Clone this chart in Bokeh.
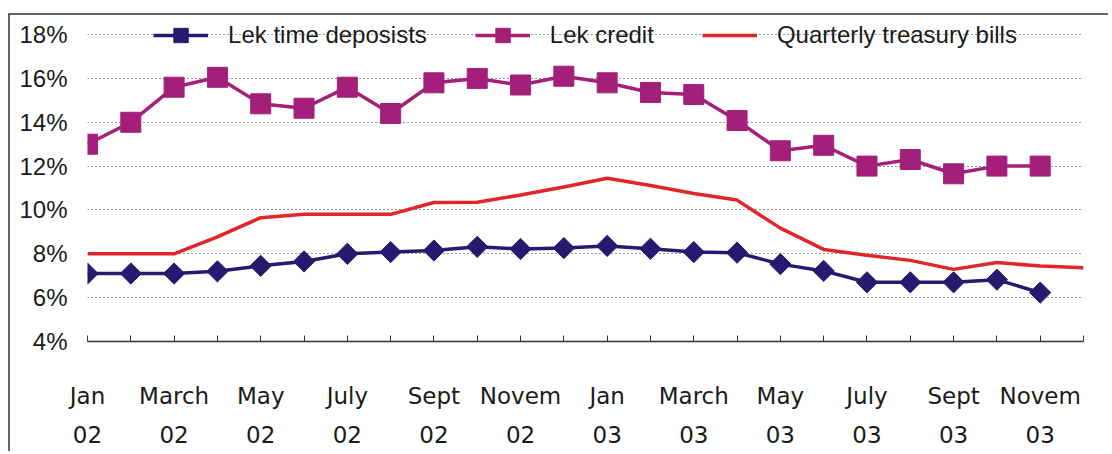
from bokeh.plotting import figure
from bokeh.models import Range1d, FixedTicker, LinearAxis, Legend, LegendItem
from bokeh.embed import file_html
from bokeh.resources import INLINE

# ---- data ----
month_index = list(range(24))  # Jan 02 ... Dec 03
label_index = list(range(0, 24, 2))
tick_months = ["Jan", "March", "May", "July", "Sept", "Novem",
               "Jan", "March", "May", "July", "Sept", "Novem"]
tick_years = ["02", "02", "02", "02", "02", "02",
              "03", "03", "03", "03", "03", "03"]

lek_deposits = [7.1, 7.1, 7.1, 7.2, 7.45, 7.65, 8.0, 8.08, 8.15, 8.32, 8.22, 8.26,
                8.36, 8.23, 8.08, 8.05, 7.53, 7.22, 6.7, 6.7, 6.7, 6.82, 6.23]
lek_credit = [13.0, 14.0, 15.6, 16.05, 14.84, 14.64, 15.6, 14.4, 15.8, 16.0, 15.7, 16.1,
              15.8, 15.36, 15.27, 14.08, 12.7, 12.95, 12.0, 12.3, 11.65, 12.0, 12.0]
treasury_bills = [8.0, 8.0, 8.0, 8.77, 9.65, 9.8, 9.8, 9.8, 10.34, 10.35, 10.68, 11.05,
                  11.45, 11.12, 10.75, 10.45, 9.17, 8.2, 7.93, 7.7, 7.29, 7.6, 7.44, 7.36]
y_ticks = [4, 6, 8, 10, 12, 14, 16, 18]

C_DEP = "#28186f"
C_CRED = "#a31f7a"
C_TB = "#e0262a"
FONT = "Liberation Sans"
XFONT = "DejaVu Sans"

p = figure(width=1100, height=438, x_range=Range1d(0, 23), y_range=Range1d(4, 18.87),
           output_backend="svg", toolbar_location=None,
           min_border_left=77, min_border_right=27, min_border_top=0, min_border_bottom=112)
p.outline_line_color = None
# chart-area frame: top and left edges
p.styles = {"border-top": "2px solid #666666", "border-left": "2px solid #666666"}
p.margin = (13, 0, 0, 8)

# y axis
ya = p.yaxis[0]
ya.ticker = FixedTicker(ticks=y_ticks)
ya.major_label_overrides = {t: f"{t}%" for t in y_ticks}
ya.axis_line_color = None
ya.major_tick_line_color = None
ya.minor_tick_line_color = None
ya.major_label_standoff = 14
ya.major_label_text_font = FONT
ya.major_label_text_font_size = "24px"
ya.major_label_text_color = "#1a1a1a"

p.xgrid.grid_line_color = None
p.ygrid.grid_line_color = "#333333"
p.ygrid.grid_line_dash = "1 3"
p.ygrid.grid_line_width = 1

# x axis: months
xa = p.xaxis[0]
xa.ticker = FixedTicker(ticks=month_index)
overrides = {i: "" for i in month_index}
for i, m in zip(label_index, tick_months):
    overrides[i] = m
xa.major_label_overrides = overrides
xa.axis_line_color = "#333333"
xa.axis_line_width = 1.5
xa.major_tick_line_color = "#333333"
xa.major_tick_in = 6
xa.major_tick_out = 0
xa.minor_tick_line_color = None
xa.major_label_standoff = 41
xa.major_label_text_font = XFONT
xa.major_label_text_font_size = "23px"
xa.major_label_text_color = "#1a1a1a"

# x axis: years
xa2 = LinearAxis(ticker=FixedTicker(ticks=label_index),
                 major_label_overrides={i: y for i, y in zip(label_index, tick_years)})
xa2.axis_line_color = None
xa2.major_tick_line_color = None
xa2.minor_tick_line_color = None
xa2.major_label_standoff = 8
xa2.major_label_text_font = XFONT
xa2.major_label_text_font_size = "23px"
xa2.major_label_text_color = "#1a1a1a"
p.add_layout(xa2, "below")

n = len(lek_deposits)
tb = p.line(month_index, treasury_bills, line_color=C_TB, line_width=3.5)
cl = p.line(month_index[:n], lek_credit, line_color=C_CRED, line_width=3.5)
cs = p.scatter(month_index[:n], lek_credit, marker="square", size=20,
               fill_color=C_CRED, line_color=C_CRED)
dl = p.line(month_index[:n], lek_deposits, line_color=C_DEP, line_width=3.5)
ds = p.scatter(month_index[:n], lek_deposits, marker="square", size=15, angle=0.7854,
               fill_color=C_DEP, line_color=C_DEP)

legend = Legend(items=[
    LegendItem(label="Lek time deposists", renderers=[dl, ds]),
    LegendItem(label="Lek credit", renderers=[cl, cs]),
    LegendItem(label="Quarterly treasury bills", renderers=[tb]),
], location="top_center", orientation="horizontal")
legend.background_fill_alpha = 0
legend.border_line_color = None
legend.label_text_font = FONT
legend.label_text_font_size = "24px"
legend.label_text_color = "#1a1a1a"
legend.glyph_width = 55
legend.glyph_height = 36
legend.label_standoff = 20
legend.spacing = 48
legend.padding = 0
legend.margin = 2
p.add_layout(legend)

open("out.html", "w").write(file_html(p, INLINE))
